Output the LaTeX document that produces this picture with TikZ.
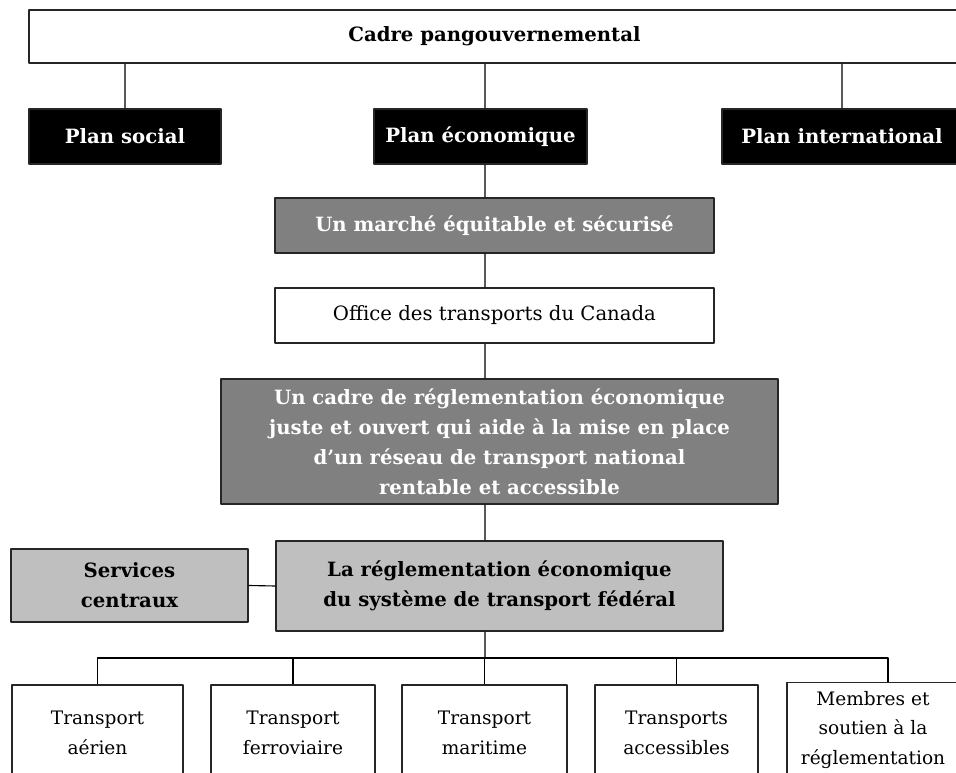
\documentclass[tikz,border=0pt]{standalone}
\usepackage{fontspec}
\setmainfont{DejaVu Serif}
\begin{document}
\begin{tikzpicture}[x=0.025cm,y=-0.025cm,line join=round,font=\fontsize{14}{21.3}\selectfont,
	box/.style={draw=black!85,line width=0.9pt,rectangle,align=center,inner sep=0pt},
	noir/.style={box,fill=black,text=white,font=\fontsize{14}{21.3}\selectfont\bfseries,minimum height=1.375cm},
	fonce/.style={box,fill=black!50,text=white,font=\fontsize{14}{21.3}\selectfont\bfseries},
	clair/.style={box,fill=black!25,font=\fontsize{14}{21.3}\selectfont\bfseries},
	blanc/.style={box,fill=white},
	bas/.style={blanc,minimum height=2.375cm,font=\fontsize{13.2}{21.3}\selectfont}]
	\useasboundingbox (0,0) rectangle (956,773);
	\coordinate (axe) at (485,0);
	\coordinate (bus) at (485,658);
	% cadre et plans
	\node[blanc,font=\fontsize{14}{21.3}\selectfont\bfseries,minimum width=23.275cm,minimum height=1.325cm] (pangouv) at (494.5,36.5) {Cadre pangouvernemental};
	\node[noir,minimum width=4.8cm] (social) at (125,136.5) {Plan social};
	\node[noir,minimum width=5.325cm] (eco) at (480.5,136.5) {Plan économique};
	\node[noir,minimum width=6cm] (inter) at (842,136.5) {Plan international};
	% colonne centrale
	\node[fonce,minimum width=10.975cm,minimum height=1.375cm] (marche) at (494.5,225.5) {Un marché équitable et sécurisé};
	\node[blanc,minimum width=10.975cm,minimum height=1.375cm] (office) at (494.5,315.5) {Office des transports du Canada};
	\node[fonce,minimum width=13.925cm,minimum height=3.125cm] (cadre) at (499.5,441.5) {Un cadre de réglementation économique\\juste et ouvert qui aide à la mise en place\\d’un réseau de transport national\\rentable et accessible};
	\node[clair,minimum width=11.175cm,minimum height=2.25cm] (regl) at (499.5,586) {La réglementation économique\\du système de transport fédéral};
	\node[clair,minimum width=5.925cm,minimum height=1.825cm] (services) at (129.5,585.5) {Services\\centraux};
	% activites
	\node[bas,minimum width=4.275cm] (aerien) at (97.5,732.5) {Transport\\aérien};
	\node[bas,minimum width=4.1cm] (ferro) at (293,732.5) {Transport\\ferroviaire};
	\node[bas,minimum width=4.125cm] (maritime) at (484.5,732.5) {Transport\\maritime};
	\node[bas,minimum width=4.075cm] (access) at (676.5,732.5) {Transports\\accessibles};
	\node[bas,minimum width=4.3cm] (membres) at (873,730) {Membres et\\soutien à la\\réglementation};
	% liens
	\draw[line width=0.8pt] (social.north) -- (social.north |- pangouv.south)
		(inter.north) -- (inter.north |- pangouv.south)
		(pangouv.south -| axe) -- (eco.north -| axe)
		(eco.south -| axe) -- (marche.north -| axe)
		(marche.south -| axe) -- (office.north -| axe)
		(office.south -| axe) -- (cadre.north -| axe)
		(cadre.south -| axe) -- (regl.north -| axe)
		(services.east) -- (regl.west)
		(regl.south -| axe) -- (bus);
	\foreach \n in {aerien,ferro,maritime,access}
		\draw[line width=0.8pt] (bus) -| (\n.north);
	\draw[line width=0.8pt] (bus) -| ([xshift=0.375cm]membres.north);
\end{tikzpicture}
\end{document}
